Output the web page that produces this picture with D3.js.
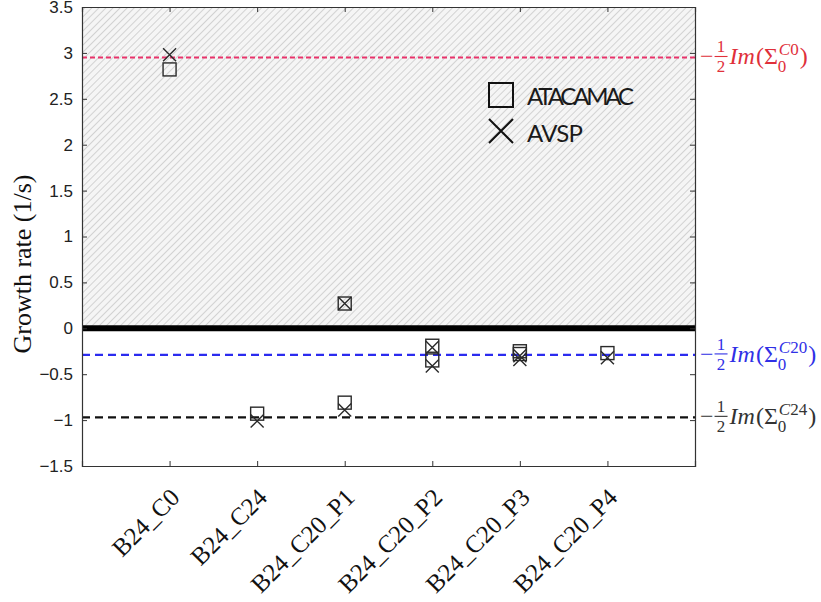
<!DOCTYPE html>
<html>
<head>
<meta charset="utf-8">
<script src="https://cdn.jsdelivr.net/npm/d3@7/dist/d3.min.js"></script>
<style>
  html, body { margin: 0; padding: 0; background: #fff; }
  svg { display: block; }
</style>
</head>
<body>
<svg id="chart" width="821" height="602"></svg>
<script>
// ---- data ----
const categories = ["B24_C0", "B24_C24", "B24_C20_P1", "B24_C20_P2", "B24_C20_P3", "B24_C20_P4"];
const atacamac = [[2.82], [-0.93], [0.27, -0.81], [-0.19, -0.35], [-0.25, -0.28], [-0.27]];
const avsp = [[2.98], [-1.01], [0.27, -0.89], [-0.21, -0.41], [-0.30, -0.34], [-0.32]];
const yTicks = [-1.5, -1, -0.5, 0, 0.5, 1, 1.5, 2, 2.5, 3, 3.5];
const refValues = [2.95, -0.29, -0.97];
const refSupers = ["C0", "C20", "C24"];
const seriesNames = ["ATACAMAC", "AVSP"];
const yLabel = "Growth rate (1/s)";

// ---- layout ----
const svg = d3.select("#chart");
const L = 82, R = 695, T = 7, B = 466;
const x = d3.scaleLinear().domain([0, categories.length + 1]).range([L, R]);
const y = d3.scaleLinear().domain([-1.5, 3.5]).range([B, T]);

// hatch pattern
const defs = svg.append("defs");
const pat = defs.append("pattern")
  .attr("id", "hatch").attr("patternUnits", "userSpaceOnUse")
  .attr("width", 5).attr("height", 5)
  .attr("patternTransform", "rotate(45)");
pat.append("rect").attr("width", 5).attr("height", 5).attr("fill", "#f5f5f5");
pat.append("line").attr("x1", 0).attr("y1", 0).attr("x2", 0).attr("y2", 5)
  .attr("stroke", "#b5b5b5").attr("stroke-width", 1.1);
const blur = defs.append("filter").attr("id", "blur").attr("x", "-5%").attr("y", "-200%").attr("width", "110%").attr("height", "500%");
blur.append("feGaussianBlur").attr("stdDeviation", 1.2);

// hatched region (growth > 0)
svg.append("rect")
  .attr("x", L).attr("y", y(3.5))
  .attr("width", R - L).attr("height", y(0) - y(3.5))
  .attr("fill", "url(#hatch)");

// thick zero line
svg.append("line").attr("x1", L).attr("x2", R).attr("y1", y(0) + 3).attr("y2", y(0) + 3)
  .attr("stroke", "#999").attr("stroke-width", 5).attr("filter", "url(#blur)").attr("opacity", 0.6);
svg.append("line").attr("x1", L).attr("x2", R).attr("y1", y(0)).attr("y2", y(0))
  .attr("stroke", "#000").attr("stroke-width", 6);

// reference lines
const refColors = ["#e8336a", "#2b2bef", "#111"];
const refDash = ["5,3", "8,5", "8,5"];
refValues.forEach((v, i) => {
  if (i > 0) {
    svg.append("line").attr("x1", L).attr("x2", R).attr("y1", y(v) + 2.5).attr("y2", y(v) + 2.5)
      .attr("stroke", "#999").attr("stroke-width", 3).attr("filter", "url(#blur)").attr("opacity", 0.7);
  }
  svg.append("line").attr("x1", L).attr("x2", R).attr("y1", y(v)).attr("y2", y(v))
    .attr("stroke", refColors[i]).attr("stroke-width", i === 0 ? 2.2 : 2.4)
    .attr("stroke-dasharray", refDash[i]);
});

// axes frame
const axisColor = "#333";
const gL = svg.append("g").attr("transform", `translate(${L},0)`)
  .call(d3.axisLeft(y).tickValues(yTicks).tickSize(-5).tickPadding(9)
    .tickFormat(d => String(d).replace("-", "\u2212")));
const gR = svg.append("g").attr("transform", `translate(${R},0)`)
  .call(d3.axisRight(y).tickValues(yTicks).tickSize(-5).tickFormat(""));
const catTicks = categories.map((c, i) => i + 1);
const gB = svg.append("g").attr("transform", `translate(0,${B})`)
  .call(d3.axisBottom(x).tickValues(catTicks).tickSize(-5).tickPadding(0)
    .tickFormat((d) => categories[d - 1]));
const gT = svg.append("g").attr("transform", `translate(0,${T})`)
  .call(d3.axisTop(x).tickValues(catTicks).tickSize(-5).tickFormat(""));
[gL, gR, gB, gT].forEach(g => {
  g.select(".domain").attr("stroke", axisColor).attr("stroke-width", 1.2);
  g.selectAll(".tick line").attr("stroke", axisColor).attr("stroke-width", 1);
});
gL.selectAll(".tick text").attr("font-family", "'Liberation Sans', Arial, sans-serif")
  .attr("font-size", 17).attr("fill", "#222");
gB.selectAll(".tick text")
  .attr("font-family", "'Liberation Serif', 'Times New Roman', serif")
  .attr("font-size", 25).attr("fill", "#111")
  .attr("text-anchor", "end")
  .attr("dy", 0)
  .attr("transform", "translate(11,33) rotate(-45)");

// y label
svg.append("text")
  .attr("transform", `translate(31,264) rotate(-90)`)
  .attr("text-anchor", "middle")
  .attr("font-family", "'Liberation Serif', 'Times New Roman', serif")
  .attr("font-size", 26).attr("fill", "#111")
  .text(yLabel);

// markers
const ms = 13;
const mColor = "#2a2a2a";
const pts = (arr) => arr.flatMap((vals, i) => vals.map(v => ({ c: i + 1, v })));
svg.append("g").selectAll("rect").data(pts(atacamac)).join("rect")
  .attr("x", d => x(d.c) - ms / 2).attr("y", d => y(d.v) - ms / 2)
  .attr("width", ms).attr("height", ms)
  .attr("fill", "none").attr("stroke", mColor).attr("stroke-width", 1.4);
svg.append("g").selectAll("path").data(pts(avsp)).join("path")
  .attr("d", d => {
    const cx = x(d.c), cy = y(d.v), h = ms / 2;
    return `M${cx - h},${cy - h}L${cx + h},${cy + h}M${cx - h},${cy + h}L${cx + h},${cy - h}`;
  })
  .attr("fill", "none").attr("stroke", mColor).attr("stroke-width", 1.4);

// legend
const lg = svg.append("g");
lg.append("rect").attr("x", 489).attr("y", 83).attr("width", 24).attr("height", 24)
  .attr("fill", "none").attr("stroke", "#111").attr("stroke-width", 2);
lg.append("path").attr("d", "M489,119L513,143M489,143L513,119")
  .attr("fill", "none").attr("stroke", "#111").attr("stroke-width", 2);
lg.append("text").attr("x", 527).attr("y", 105)
  .attr("font-family", "Lato, 'Open Sans', sans-serif").attr("font-size", 24).attr("fill", "#1a1a1a")
  .attr("textLength", 107).text(seriesNames[0]);
lg.append("text").attr("x", 527).attr("y", 142)
  .attr("font-family", "Lato, 'Open Sans', sans-serif").attr("font-size", 24).attr("fill", "#1a1a1a")
  .attr("textLength", 56).text(seriesNames[1]);

// right-side math labels: -1/2 Im(Sigma_0^{Cxx})
const labColors = ["#e0303a", "#3030e6", "#333"];
const serif = "'Liberation Serif', 'Times New Roman', serif";
refValues.forEach((v, i) => {
  const cy = y(v);
  const base = cy + 7;
  const g = svg.append("g").attr("fill", labColors[i]).attr("font-family", serif);
  const put = (txt, xx, yy, size, italic) => {
    const t = g.append("text").attr("x", xx).attr("y", yy).attr("font-size", size)
      .attr("font-style", italic ? "italic" : "normal").text(txt);
    return t.node().getComputedTextLength();
  };
  let cx = 700;
  cx += put("\u2212", cx, base, 24, false) + 1;
  // fraction 1/2
  g.append("line").attr("x1", cx).attr("x2", cx + 13).attr("y1", cy - 1).attr("y2", cy - 1)
    .attr("stroke", labColors[i]).attr("stroke-width", 1.1);
  g.append("text").attr("x", cx + 6.5).attr("y", cy - 5).attr("font-size", 17).attr("text-anchor", "middle").text("1");
  g.append("text").attr("x", cx + 6.5).attr("y", cy + 15).attr("font-size", 17).attr("text-anchor", "middle").text("2");
  cx += 15;
  cx += put("Im", cx, base, 24, true) + 1;
  cx += put("(", cx, base, 24, false);
  cx += put("\u03A3", cx, base, 24, false);
  const subW = put("0", cx, base + 8, 17, false);
  let sx = cx + 1;
  sx += put(refSupers[i].charAt(0), sx, base - 9, 17, true);
  sx += put(refSupers[i].slice(1), sx, base - 9, 17, false);
  cx = Math.max(cx + subW, sx) + 1;
  put(")", cx, base, 24, false);
});
</script>
</body>
</html>
